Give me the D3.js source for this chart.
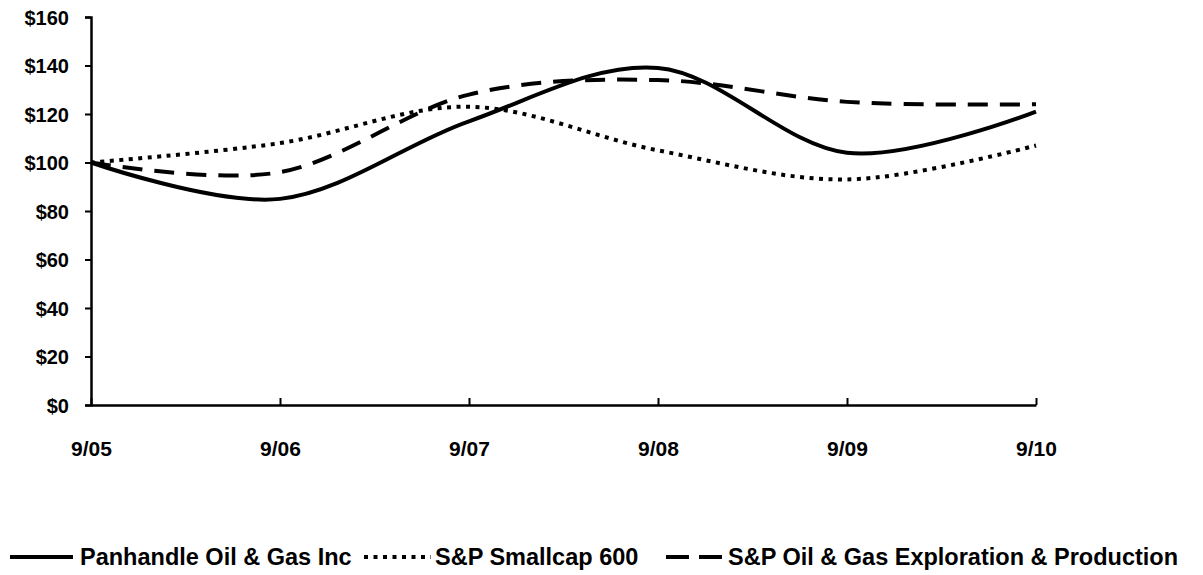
<!DOCTYPE html>
<html>
<head>
<meta charset="utf-8">
<script src="https://cdn.jsdelivr.net/npm/d3@7"></script>
<style>
  html, body { margin: 0; padding: 0; background: #fff; }
  svg { display: block; }
  text { font-family: "Liberation Sans", Arial, Helvetica, sans-serif; font-weight: bold; fill: #000; }
</style>
</head>
<body>
<svg id="chart" width="1203" height="575"></svg>
<script>
const categories = ["9/05", "9/06", "9/07", "9/08", "9/09", "9/10"];
const panhandle = [100, 85, 117, 139, 104, 121];
const smallcap = [100, 108, 123, 105, 93, 107];
const oilGasEP = [100, 96, 128, 134, 125, 124];
const yTicks = [0, 20, 40, 60, 80, 100, 120, 140, 160];
const seriesNames = ["Panhandle Oil & Gas Inc", "S&P Smallcap 600", "S&P Oil & Gas Exploration & Production"];

const svg = d3.select("#chart");
const x = d3.scalePoint().domain(categories).range([91, 1036]);
const y = d3.scaleLinear().domain([0, 160]).range([405, 17]);

// Y axis
const yAxis = d3.axisLeft(y).tickValues(yTicks).tickFormat(d => "$" + d).tickSize(6).tickPadding(16);
const gy = svg.append("g").attr("transform", "translate(91,0)").call(yAxis);
gy.select(".domain").attr("stroke", "#000").attr("stroke-width", 2.5);
gy.selectAll(".tick line").attr("stroke", "#000").attr("stroke-width", 2);
gy.selectAll(".tick text").style("font-size", "20px").attr("dy", "0.36em");

// X axis (ticks inward)
const xAxis = d3.axisBottom(x).tickSize(-7).tickSizeOuter(0).tickPadding(36);
const gx = svg.append("g").attr("transform", "translate(0,405)").call(xAxis);
gx.select(".domain").attr("stroke", "#000").attr("stroke-width", 2.5);
gx.selectAll(".tick line").attr("stroke", "#000").attr("stroke-width", 2);
gx.selectAll(".tick text").style("font-size", "21px");

const styles = [
  { data: panhandle, dash: null, width: 4 },
  { data: smallcap, dash: "4,5.5", width: 4 },
  { data: oilGasEP, dash: "20,12", width: 4 }
];

const line = d3.line()
  .x((d, i) => x(categories[i]))
  .y(d => y(d))
  .curve(d3.curveCardinal.tension(0));

styles.forEach(s => {
  svg.append("path")
    .datum(s.data)
    .attr("fill", "none")
    .attr("stroke", "#000")
    .attr("stroke-width", s.width)
    .attr("stroke-dasharray", s.dash)
    .attr("d", line);
});

// Legend
const legendY = 557;
const legend = [
  { x1: 10, x2: 73, tx: 80, dash: null },
  { x1: 364, x2: 431, tx: 435, dash: "4,5.5" },
  { x1: 666, x2: 722, tx: 728, dash: "23,10" }
];
legend.forEach((l, i) => {
  svg.append("line")
    .attr("x1", l.x1).attr("x2", l.x2)
    .attr("y1", legendY).attr("y2", legendY)
    .attr("stroke", "#000").attr("stroke-width", 4)
    .attr("stroke-dasharray", l.dash);
  svg.append("text")
    .attr("x", l.tx).attr("y", legendY)
    .attr("dy", "0.36em")
    .style("font-size", "23.5px")
    .text(seriesNames[i]);
});
</script>
</body>
</html>
